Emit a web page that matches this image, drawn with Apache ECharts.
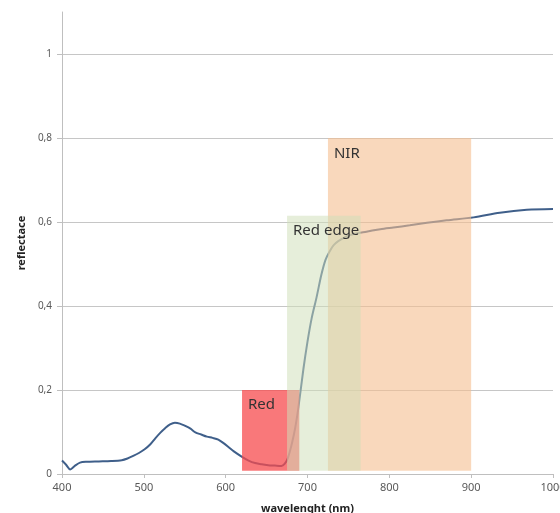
<!DOCTYPE html>
<html>
<head>
<meta charset="utf-8">
<script src="https://cdn.jsdelivr.net/npm/echarts@6/dist/echarts.min.js"></script>
<style>
  html, body { margin: 0; padding: 0; background: #fff; }
  #myChart { width: 560px; height: 513px; }
</style>
</head>
<body>
<div id="myChart"></div>
<script>
// spectral reflectance curve (nm -> reflectance)
var wavelengths = [400, 405, 410, 416, 422, 430, 445, 460, 473, 480, 487, 494, 501, 508, 514, 520, 526, 532, 538, 544,
  550, 557, 563, 570, 577, 584, 591, 597, 603, 610, 620, 628, 636, 644, 652, 660, 668, 672, 676, 681,
  685, 689, 695, 700, 705, 711, 717, 722, 727, 732, 738, 745, 752, 762, 772, 789, 805, 825, 846, 870,
  903, 935, 968, 1000];
var reflectance = [0.032, 0.022, 0.011, 0.020, 0.027, 0.029, 0.030, 0.031, 0.033, 0.037, 0.043, 0.050, 0.059, 0.071, 0.085, 0.098, 0.109, 0.118, 0.122, 0.120,
  0.115, 0.108, 0.099, 0.094, 0.089, 0.086, 0.082, 0.074, 0.065, 0.054, 0.041, 0.032, 0.026, 0.023, 0.021, 0.020, 0.019, 0.024, 0.038, 0.073,
  0.110, 0.160, 0.250, 0.315, 0.370, 0.420, 0.475, 0.510, 0.530, 0.545, 0.555, 0.563, 0.569, 0.574, 0.577, 0.583, 0.587, 0.592, 0.598, 0.604,
  0.611, 0.622, 0.629, 0.631];

// highlighted bands: label, from nm, to nm, bottom, top
var bandNames = ["NIR", "Red", "Red edge"];
var bandFrom = [725, 620, 675];
var bandTo = [900, 690, 765];
var bandBottom = [0.008, 0.008, 0.008];
var bandTop = [0.8, 0.2, 0.615];

// axis ticks
var xTicks = [400, 500, 600, 700, 800, 900, 1000];
var yTicks = [0, 0.2, 0.4, 0.6, 0.8, 1];

var bandStyles = [
  { color: "rgb(245,190,143)", opacity: 0.6 },
  { color: "rgb(247,75,77)", opacity: 0.75 },
  { color: "rgb(208,223,185)", opacity: 0.53 }
];
// label nudge inside each band
var bandLabelOffset = [[1, 3], [1, 2], [1, 3]];

var curve = wavelengths.map(function (w, i) { return [w, reflectance[i]]; });

var bandSeries = bandNames.map(function (name, i) {
  return {
    name: name,
    type: "line",
    data: [],
    z: 3 + i,
    silent: true,
    markArea: {
      z: 3 + i,
      silent: true,
      itemStyle: bandStyles[i],
      label: {
        show: true,
        position: "insideTopLeft",
        distance: 5,
        offset: bandLabelOffset[i],
        color: "#333",
        fontSize: 15,
        fontFamily: "Noto Sans"
      },
      data: [[
        { name: name, xAxis: bandFrom[i], yAxis: bandTop[i] },
        { xAxis: bandTo[i], yAxis: bandBottom[i] }
      ]]
    }
  };
});

var axisGray = "#bfbfbf";
var labelGray = "#595959";

var myChart = echarts.init(document.getElementById("myChart"));
myChart.setOption({
  animation: false,
  grid: { left: 62, right: 7, top: 12, bottom: 39, containLabel: false, outerBoundsMode: "none" },
  xAxis: {
    type: "value",
    min: xTicks[0],
    max: xTicks[xTicks.length - 1],
    interval: 100,
    name: "wavelenght (nm)",
    nameLocation: "middle",
    nameGap: 29,
    nameTextStyle: { color: "#222", fontWeight: "bold", fontSize: 11, fontFamily: "Noto Sans" },
    axisLine: { lineStyle: { color: axisGray } },
    axisTick: { show: true, length: 4, lineStyle: { color: axisGray } },
    splitLine: { show: false },
    axisLabel: {
      color: labelGray, fontSize: 11, fontFamily: "Noto Sans", margin: 8,
      formatter: function (v) { return String(v); }
    }
  },
  yAxis: {
    type: "value",
    min: 0,
    max: 1.1,
    interval: 0.2,
    name: "reflectace",
    nameLocation: "middle",
    nameGap: 20,
    nameTextStyle: { color: "#222", fontWeight: "bold", fontSize: 11, fontFamily: "Noto Sans" },
    axisLine: { show: true, lineStyle: { color: axisGray } },
    axisTick: { show: true, length: 5, lineStyle: { color: axisGray } },
    splitLine: { show: true, showMaxLine: false, lineStyle: { color: "#c6c6c6" } },
    axisLabel: {
      color: labelGray,
      fontSize: 10,
      fontFamily: "Noto Sans",
      margin: 10,
      showMaxLabel: false,
      formatter: function (v) {
        var r = Math.round(v * 10) / 10;
        if (yTicks.indexOf(r) < 0) return "";
        return String(r).replace(".", ",");
      }
    }
  },
  series: [
    {
      name: "reflectance",
      type: "line",
      z: 1,
      smooth: 0.3,
      symbol: "none",
      lineStyle: { color: "#3f5f8a", width: 2 },
      data: curve
    }
  ].concat(bandSeries)
});
</script>
</body>
</html>
